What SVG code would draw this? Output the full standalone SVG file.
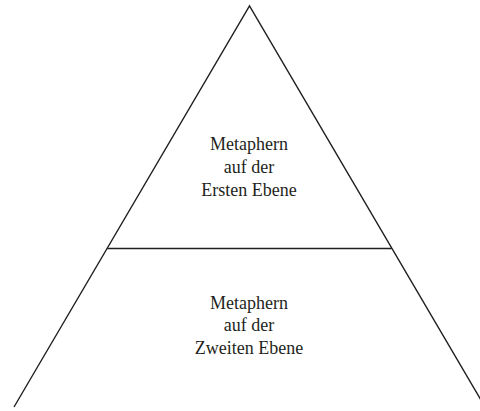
<svg xmlns="http://www.w3.org/2000/svg" width="480" height="411" viewBox="0 0 480 411">
<style>
.l{stroke:#231f20;stroke-width:1.4;fill:none}
.t{font-family:"Liberation Serif","DejaVu Serif",serif;font-size:18px;fill:#231f20;text-anchor:middle}
</style>
<rect width="480" height="411" fill="#fff"/>
<g id="connectors">
<path class="l" d="M14,407 L249.5,6 L485,407"/>
<line class="l" x1="107.3" y1="248.5" x2="391.7" y2="248.5"/>
</g>
<g id="top">
<text class="t" x="249" y="150">Metaphern</text>
<text class="t" x="249" y="173">auf der</text>
<text class="t" x="249" y="196">Ersten Ebene</text>
</g>
<g id="bottom">
<text class="t" x="249" y="309">Metaphern</text>
<text class="t" x="249" y="331">auf der</text>
<text class="t" x="249" y="354">Zweiten Ebene</text>
</g>
</svg>
